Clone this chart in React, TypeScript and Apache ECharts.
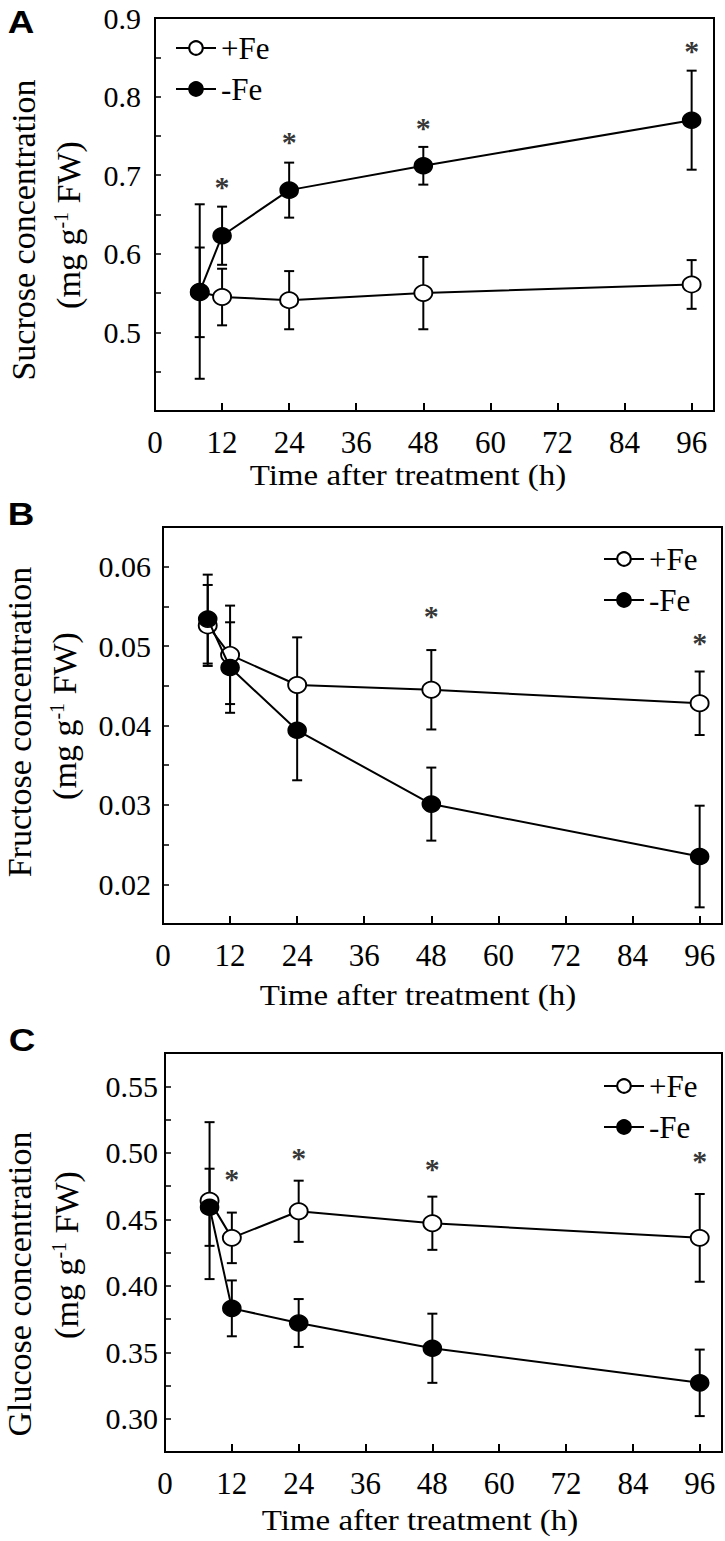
import React, { useEffect, useRef } from "react";
import * as echarts from "echarts";

// ---------- data ----------
const hours = [8, 12, 24, 48, 96];
const timeTicks = [0, 12, 24, 36, 48, 60, 72, 84, 96];

const sucrosePlusFe = [0.551, 0.545, 0.541, 0.550, 0.561];
const sucrosePlusFeSE = [0.057, 0.036, 0.037, 0.046, 0.031];
const sucroseMinusFe = [0.552, 0.623, 0.681, 0.712, 0.770];
const sucroseMinusFeSE = [0.111, 0.037, 0.035, 0.024, 0.063];
const sucroseSigHours = [12, 24, 48, 96];
const sucroseSigY = [0.691, 0.748, 0.766, 0.864];
const sucroseYTicks = [0.5, 0.6, 0.7, 0.8, 0.9];

const fructosePlusFe = [0.0526, 0.0489, 0.0451, 0.0445, 0.0428];
const fructosePlusFeSE = [0.0051, 0.0062, 0.006, 0.005, 0.004];
const fructoseMinusFe = [0.0534, 0.0473, 0.0394, 0.0301, 0.0235];
const fructoseMinusFeSE = [0.0056, 0.0057, 0.0063, 0.0046, 0.0064];
const fructoseSigHours = [48, 96];
const fructoseSigY = [0.0543, 0.0509];
const fructoseYTicks = [0.02, 0.03, 0.04, 0.05, 0.06];

const glucosePlusFe = [0.464, 0.436, 0.456, 0.447, 0.436];
const glucosePlusFeSE = [0.059, 0.019, 0.023, 0.02, 0.033];
const glucoseMinusFe = [0.459, 0.383, 0.372, 0.353, 0.327];
const glucoseMinusFeSE = [0.029, 0.021, 0.018, 0.026, 0.025];
const glucoseSigHours = [12, 24, 48, 96];
const glucoseSigY = [0.4833, 0.4996, 0.4908, 0.497];
const glucoseYTicks = [0.3, 0.35, 0.4, 0.45, 0.5, 0.55];

const seriesNames = ["+Fe", "-Fe"];

// ---------- layout ----------
const SERIF = "Liberation Serif";
const panels = [
  {
    letter: "A", letterPos: [21, 22],
    grid: { left: 155, top: 18, width: 559, height: 393 },
    y: { min: 0.4, max: 0.9, interval: 0.05, ticks: sucroseYTicks, digits: 1, margin: 14 },
    plus: sucrosePlusFe, plusSE: sucrosePlusFeSE, minus: sucroseMinusFe, minusSE: sucroseMinusFeSE,
    sigX: sucroseSigHours, sigY: sucroseSigY,
    legend: { left: 175, top: 32 },
    yTitle: "Sucrose concentration", yTitlePos: [[23, 230], [68, 225]],
    xTitlePos: [408, 475],
  },
  {
    letter: "B", letterPos: [21, 514],
    grid: { left: 163, top: 527, width: 559, height: 397 },
    y: { min: 0.015, max: 0.065, interval: 0.005, ticks: fructoseYTicks, digits: 2, margin: 12 },
    plus: fructosePlusFe, plusSE: fructosePlusFeSE, minus: fructoseMinusFe, minusSE: fructoseMinusFeSE,
    sigX: fructoseSigHours, sigY: fructoseSigY,
    legend: { left: 603, top: 543 },
    yTitle: "Fructose concentration", yTitlePos: [[19, 722], [64, 716]],
    xTitlePos: [418, 995],
  },
  {
    letter: "C", letterPos: [22, 1040],
    grid: { left: 165, top: 1053, width: 557, height: 399 },
    y: { min: 0.275, max: 0.575, interval: 0.025, ticks: glucoseYTicks, digits: 2, margin: 7 },
    plus: glucosePlusFe, plusSE: glucosePlusFeSE, minus: glucoseMinusFe, minusSE: glucoseMinusFeSE,
    sigX: glucoseSigHours, sigY: glucoseSigY,
    legend: { left: 603, top: 1070 },
    yTitle: "Glucose concentration", yTitlePos: [[19, 1284], [66, 1255]],
    xTitlePos: [420, 1520],
  },
];

function errorBarSeries(idx: number, means: number[], se: number[], z: number) {
  return {
    type: "custom",
    xAxisIndex: idx,
    yAxisIndex: idx,
    silent: true,
    z,
    data: hours.map((h, j) => [h, means[j] - se[j], means[j] + se[j]]),
    renderItem: (params: any, api: any) => {
      const lo = api.coord([api.value(0), api.value(1)]);
      const hi = api.coord([api.value(0), api.value(2)]);
      const w = 5;
      const st = { stroke: "#000", lineWidth: 2 };
      return {
        type: "group",
        children: [
          { type: "line", shape: { x1: lo[0], y1: lo[1], x2: hi[0], y2: hi[1] }, style: st },
          { type: "line", shape: { x1: lo[0] - w, y1: lo[1], x2: lo[0] + w, y2: lo[1] }, style: st },
          { type: "line", shape: { x1: hi[0] - w, y1: hi[1], x2: hi[0] + w, y2: hi[1] }, style: st },
        ],
      };
    },
  };
}

function buildOption() {
  const grids: any[] = [];
  const xAxes: any[] = [];
  const yAxes: any[] = [];
  const series: any[] = [];
  const legends: any[] = [];
  const graphics: any[] = [];

  panels.forEach((p, i) => {
    grids.push({ ...p.grid, show: true, borderColor: "#000", borderWidth: 2, containLabel: false });
    xAxes.push({
      type: "value",
      gridIndex: i,
      min: 0,
      max: 100,
      interval: 12,
      axisLine: { show: true, lineStyle: { color: "#000", width: 2 } },
      axisTick: { show: true, inside: true, length: 8, lineStyle: { color: "#000", width: 2 } },
      splitLine: { show: false },
      axisLabel: {
        margin: 18,
        fontFamily: SERIF,
        fontSize: 31,
        lineHeight: 26,
        color: "#000",
        formatter: (v: number) => (timeTicks.indexOf(v) >= 0 ? String(v) : ""),
      },
    });
    yAxes.push({
      type: "value",
      gridIndex: i,
      min: p.y.min,
      max: p.y.max,
      interval: p.y.interval,
      axisLine: { show: true, lineStyle: { color: "#000", width: 2 } },
      axisTick: { show: true, inside: true, length: 6, lineStyle: { color: "#000", width: 1.5 } },
      splitLine: { show: false },
      axisLabel: {
        margin: p.y.margin,
        fontFamily: SERIF,
        fontSize: 30,
        lineHeight: 26,
        color: "#000",
        formatter: (v: number) => {
          const t = p.y.ticks.find((tt) => Math.abs(tt - v) < 1e-9);
          return t === undefined ? "" : t.toFixed(p.y.digits);
        },
      },
    });

    series.push(errorBarSeries(i, p.plus, p.plusSE, 1));
    series.push(errorBarSeries(i, p.minus, p.minusSE, 1));
    series.push({
      type: "line",
      name: seriesNames[0],
      xAxisIndex: i,
      yAxisIndex: i,
      z: 3,
      data: hours.map((h, j) => [h, p.plus[j]]),
      symbol: "circle",
      symbolSize: [18, 16],
      lineStyle: { color: "#000", width: 2 },
      itemStyle: { color: "#fff", borderColor: "#000", borderWidth: 1.8 },
    });
    series.push({
      type: "line",
      name: seriesNames[1],
      xAxisIndex: i,
      yAxisIndex: i,
      z: 4,
      data: hours.map((h, j) => [h, p.minus[j]]),
      symbol: "circle",
      symbolSize: [18, 16],
      lineStyle: { color: "#000", width: 2 },
      itemStyle: { color: "#000", borderColor: "#000", borderWidth: 1.5 },
    });
    series.push({
      type: "scatter",
      xAxisIndex: i,
      yAxisIndex: i,
      z: 5,
      silent: true,
      symbol: "circle",
      symbolSize: 1,
      itemStyle: { color: "rgba(0,0,0,0)" },
      data: p.sigX.map((h, j) => [h, p.sigY[j]]),
      label: {
        show: true,
        position: "inside",
        formatter: "*",
        fontFamily: SERIF,
        fontWeight: "bold",
        fontSize: 30,
        color: "#000",
        offset: [0, 4],
      },
    });

    legends.push({
      orient: "vertical",
      left: p.legend.left,
      top: p.legend.top,
      data: seriesNames,
      selectedMode: false,
      itemWidth: 40,
      itemHeight: 17,
      itemGap: 9,
      padding: 0,
      textStyle: { fontFamily: SERIF, fontSize: 31, color: "#000", lineHeight: 32 },
    });

    graphics.push({
      type: "text",
      x: p.letterPos[0],
      y: p.letterPos[1],
      scaleX: 1.15,
      style: {
        text: p.letter,
        fontFamily: "Liberation Sans",
        fontWeight: "bold",
        fontSize: 32,
        fill: "#000",
        align: "center",
        verticalAlign: "middle",
      },
    });
    graphics.push({
      type: "text",
      x: p.yTitlePos[0][0],
      y: p.yTitlePos[0][1],
      rotation: Math.PI / 2,
      style: {
        text: p.yTitle,
        fontFamily: SERIF,
        fontSize: 34,
        fill: "#000",
        align: "center",
        verticalAlign: "middle",
      },
    });
    graphics.push({
      type: "text",
      x: p.yTitlePos[1][0],
      y: p.yTitlePos[1][1],
      rotation: Math.PI / 2,
      style: {
        text: "{n|(mg g}{s|-1}{n| FW)}",
        align: "center",
        verticalAlign: "middle",
        rich: {
          n: { fontFamily: SERIF, fontSize: 34, fill: "#000", color: "#000" },
          s: { fontFamily: SERIF, fontSize: 20, fill: "#000", color: "#000", verticalAlign: "top" },
        },
      },
    });
    graphics.push({
      type: "text",
      x: p.xTitlePos[0],
      y: p.xTitlePos[1],
      scaleX: 1.1,
      style: {
        text: "Time after treatment (h)",
        fontFamily: SERIF,
        fontSize: 30,
        fill: "#000",
        align: "center",
        verticalAlign: "middle",
      },
    });
  });

  return {
    animation: false,
    backgroundColor: "#fff",
    grid: grids,
    xAxis: xAxes,
    yAxis: yAxes,
    legend: legends,
    series,
    graphic: graphics,
  };
}

export default function App() {
  const ref = useRef<HTMLDivElement | null>(null);
  useEffect(() => {
    if (!ref.current) return;
    const chart = echarts.init(ref.current, null, { renderer: "svg" });
    chart.setOption(buildOption() as any);
    return () => chart.dispose();
  }, []);
  return (
    <div
      ref={ref}
      style={{ position: "absolute", left: 0, top: 0, width: 725, height: 1541, background: "#fff" }}
    />
  );
}
